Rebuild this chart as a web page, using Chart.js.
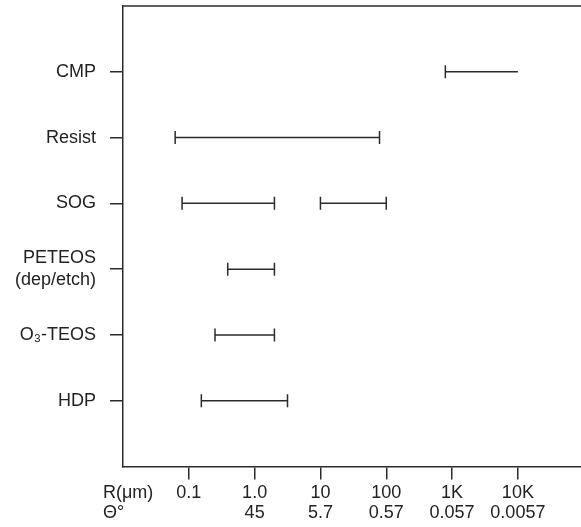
<!DOCTYPE html>
<html>
<head>
<meta charset="utf-8">
<script src="https://cdn.jsdelivr.net/npm/chart.js@4/dist/chart.umd.min.js"></script>
<style>
  body { margin: 0; background: #fff; }
  #wrap { width: 581px; height: 527px; }
</style>
</head>
<body>
<div id="wrap"><canvas id="myChart"></canvas></div>
<script>
// process names, top to bottom
let categories = ['CMP', 'Resist', 'SOG', ['PETEOS', '(dep/etch)'], 'O₃-TEOS', 'HDP'];

// each range segment: which row, low and high end in R (um)
let rangeRow  = [0, 1, 2, 2, 3, 4, 5];
let rangeLow  = [790, 0.062, 0.079, 10, 0.39, 0.25, 0.155];
let rangeHigh = [10000, 79, 2, 100, 2, 2, 3.16];
let capHigh   = [false, true, true, true, true, true, true];

// bottom axis ticks
let radiusTicks  = [0.1, 1, 10, 100, 1000, 10000];
let radiusLabels = ['0.1', '1.0', '10', '100', '1K', '10K'];
let angleLabels  = ['', '45', '5.7', '0.57', '0.057', '0.0057'];

const ink = '#2b2b2b';
const textInk = '#222';
const fontFamily = '"Liberation Sans", Arial, Helvetica, sans-serif';

let datasets = [];
for (let i = 0; i < rangeRow.length; i++) {
    datasets.push({
        data: [
            { x: rangeLow[i], y: rangeRow[i] + 1 },
            { x: rangeHigh[i], y: rangeRow[i] + 1 }
        ],
        showLine: true,
        borderColor: ink,
        backgroundColor: ink,
        borderWidth: 1.5,
        pointStyle: 'line',
        rotation: 90,
        pointRadius: [6.5, capHigh[i] ? 6.5 : 0],
        pointBorderWidth: 1.5,
        pointBorderColor: ink
    });
}

// no extra padding from the edge labels
function noPadding(scale) {
    scale.paddingTop = 0;
    scale.paddingBottom = 0;
    scale.paddingLeft = 0;
    scale.paddingRight = 0;
}

// top frame line and the row names under the x axis
const extras = {
    id: 'extras',
    afterDraw(chart) {
        const c = chart.ctx;
        const a = chart.chartArea;
        c.save();
        c.strokeStyle = ink;
        c.lineWidth = 1.5;
        c.beginPath();
        c.moveTo(a.left - 0.75, a.top);
        c.lineTo(chart.width, a.top);
        c.stroke();
        c.fillStyle = textInk;
        c.font = '18px ' + fontFamily;
        c.textAlign = 'left';
        c.textBaseline = 'middle';
        c.fillText('R(μm)', 103, 493);
        c.fillText('Θ°', 103, 513);
        c.restore();
    }
};

const ctx = document.getElementById('myChart');
const rangeChart = new Chart(ctx, {
    type: 'scatter',
    data: { datasets: datasets },
    plugins: [extras],
    options: {
        responsive: true,
        maintainAspectRatio: false,
        animation: false,
        layout: { autoPadding: false, padding: { top: 6, right: 0, left: 0, bottom: 0 } },
        plugins: {
            legend: { display: false },
            tooltip: { enabled: false }
        },
        scales: {
            x: {
                type: 'logarithmic',
                min: 0.01,
                max: 91000,
                afterBuildTicks: (scale) => {
                    scale.ticks = radiusTicks.map(v => ({ value: v }));
                },
                afterFit: (scale) => { scale.height = 60.5; noPadding(scale); },
                grid: {
                    drawOnChartArea: false,
                    drawTicks: true,
                    tickLength: 13,
                    color: ink,
                    lineWidth: 1.5
                },
                border: { display: true, color: ink, width: 1.5 },
                ticks: {
                    autoSkip: false,
                    maxRotation: 0,
                    padding: 4,
                    color: textInk,
                    font: { family: fontFamily, size: 18, lineHeight: 1.1 },
                    callback: function(value) {
                        let i = radiusTicks.indexOf(value);
                        if (i < 0) return '';
                        return [radiusLabels[i], angleLabels[i]];
                    }
                }
            },
            y: {
                type: 'linear',
                reverse: true,
                min: 0,
                max: 7,
                afterBuildTicks: (scale) => {
                    scale.ticks = categories.map((c, i) => ({ value: i + 1 }));
                },
                afterFit: (scale) => { scale.width = 123; noPadding(scale); },
                grid: {
                    drawOnChartArea: false,
                    drawTicks: true,
                    tickLength: 13,
                    color: ink,
                    lineWidth: 1.5
                },
                border: { display: true, color: ink, width: 1.5 },
                ticks: {
                    autoSkip: false,
                    padding: 14,
                    color: textInk,
                    font: { family: fontFamily, size: 18, lineHeight: 1.25 },
                    callback: function(value) {
                        return categories[value - 1] || '';
                    }
                }
            }
        }
    }
});
</script>
</body>
</html>
